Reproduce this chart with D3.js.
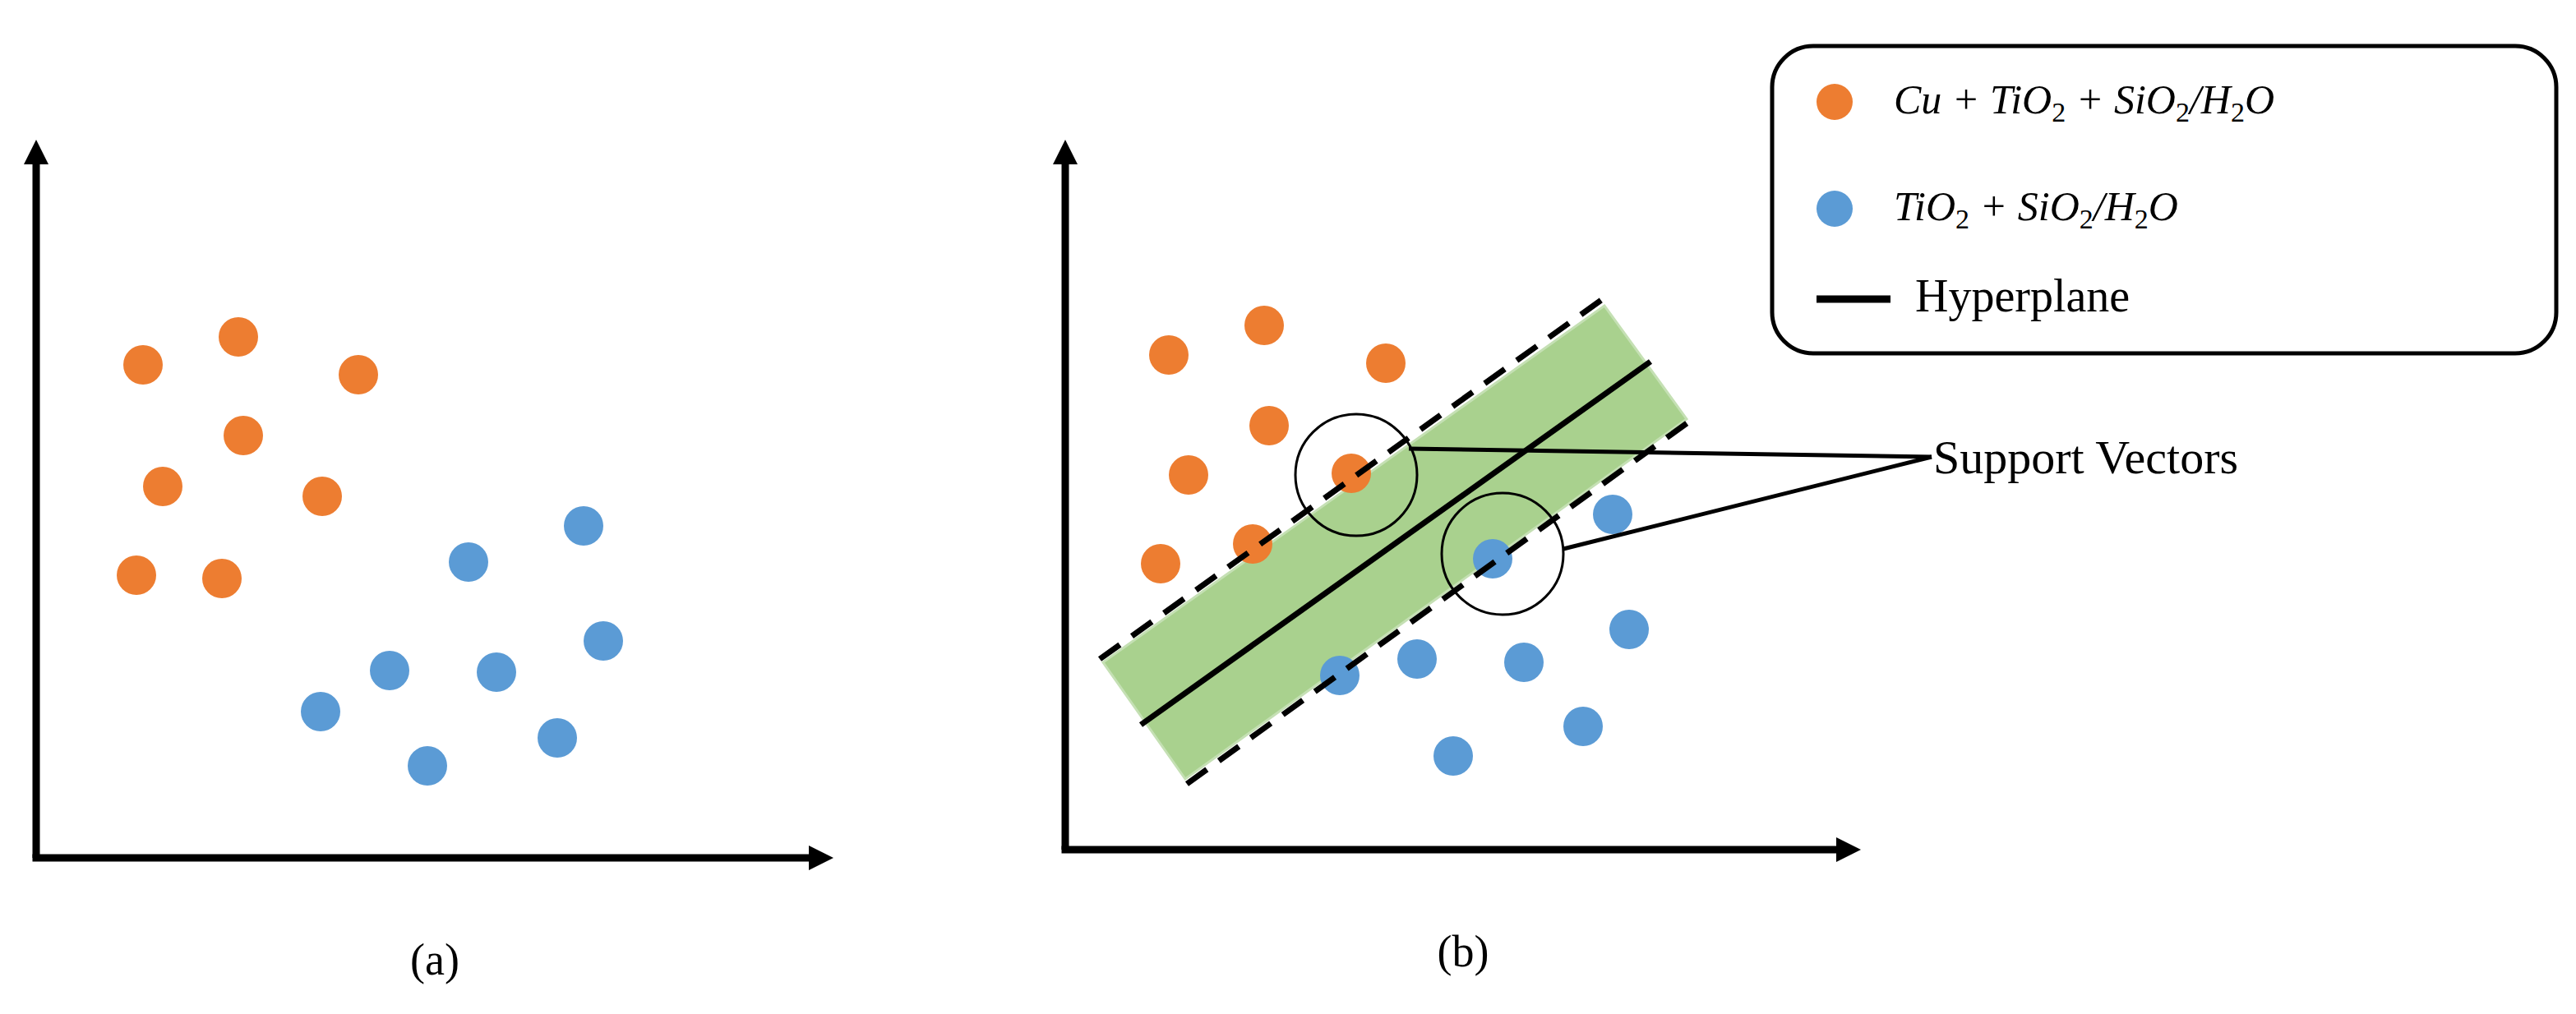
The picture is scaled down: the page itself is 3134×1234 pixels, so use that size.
<!DOCTYPE html>
<html>
<head>
<meta charset="utf-8">
<script src="https://cdn.jsdelivr.net/npm/d3@7"></script>
<style>
  body { margin: 0; background: #fff; }
  text { font-family: "Liberation Serif", "Times New Roman", serif; }
</style>
</head>
<body>
<svg id="chart" width="3134" height="1234"></svg>
<script>
"use strict";

// values, in axis units (origin at lower-left corner)
const orangeA = [[65,300],[123,317],[196,294],[126,257],[77,226],[174,220],[61,172],[113,170]];
const blueA = [[263,180],[333,202],[345,132],[215,114],[280,113],[173,89],[238,56],[317,73]];
const orangeB = [[63,301],[121,319],[195,296],[124,258],[75,228],[174,229],[58,174],[114,186]];
const blueB = [[260,177],[333,204],[343,134],[167,106],[214,116],[279,114],[236,57],[315,75]];
const marginBand = [[23,114],[328,331],[378,262],[73,43]];
const upperMargin = [[21,116],[331,338]];
const hyperplane = [[46,76],[356,297]];
const lowerMargin = [[74,40],[383,263]];
const supportVectors = [[177,228],[266,180]];
const calloutFrom = [[209,244],[303,183]];
const calloutTo = [527,239];
const legendItems = ["Cu + TiO2 + SiO2/H2O", "TiO2 + SiO2/H2O", "Hyperplane"];

const ORANGE = "#ed7d31";
const BLUE = "#5b9bd5";
const svg = d3.select("#chart");

/**
 * Draws one panel: axes with arrows and its label.
 */
function panel(ox, oy, w, h, label) {
  const x = d3.scaleLinear().domain([0, w]).range([ox, ox + w * 2]);
  const y = d3.scaleLinear().domain([0, h]).range([oy, oy - h * 2]);
  const g = svg.append("g");

  g.append("line").attr("x1", x(0)).attr("y1", y(0)).attr("x2", x(0)).attr("y2", y(h) + 26)
    .attr("stroke", "#000").attr("stroke-width", 9);
  g.append("line").attr("x1", x(0) - 4.5).attr("y1", y(0)).attr("x2", x(w) - 26).attr("y2", y(0))
    .attr("stroke", "#000").attr("stroke-width", 9);
  g.append("path").attr("d", `M${x(0)},${y(h)}l-15,30h30z`).attr("fill", "#000");
  g.append("path").attr("d", `M${x(w)},${y(0)}l-30,-15v30z`).attr("fill", "#000");

  g.append("text").attr("x", x(w / 2)).attr("y", y(0) + 142)
    .attr("text-anchor", "middle").attr("font-size", 54).text(label);

  return { g, x, y };
}

const a = panel(44, 1044, 485, 437, "(a)");
const b = panel(1296, 1034, 484, 432, "(b)");

// margin band in panel b
const line = d3.line().x((d) => b.x(d[0])).y((d) => b.y(d[1]));
b.g.append("path").attr("d", line(marginBand) + "Z")
  .attr("fill", "#a9d18e").attr("stroke", "#c5e0b4").attr("stroke-width", 3);

function drawPoints(p, data, color) {
  p.g.selectAll(null).data(data).join("circle")
    .attr("cx", (d) => p.x(d[0])).attr("cy", (d) => p.y(d[1]))
    .attr("r", 24).attr("fill", color);
}
drawPoints(a, orangeA, ORANGE);
drawPoints(a, blueA, BLUE);
drawPoints(b, orangeB, ORANGE);
drawPoints(b, blueB, BLUE);

[upperMargin, lowerMargin].forEach((seg) => {
  b.g.append("path").attr("d", line(seg)).attr("stroke", "#000")
    .attr("stroke-width", 7).attr("stroke-dasharray", "30,18").attr("fill", "none");
});
b.g.append("path").attr("d", line(hyperplane)).attr("stroke", "#000")
  .attr("stroke-width", 7).attr("fill", "none");

b.g.selectAll(null).data(supportVectors).join("circle")
  .attr("cx", (d) => b.x(d[0])).attr("cy", (d) => b.y(d[1]))
  .attr("r", 74).attr("fill", "none").attr("stroke", "#000").attr("stroke-width", 3);

calloutFrom.forEach((d) => {
  b.g.append("path").attr("d", line([d, calloutTo])).attr("stroke", "#000")
    .attr("stroke-width", 5).attr("fill", "none");
});
b.g.append("text").attr("x", b.x(calloutTo[0]) + 2).attr("y", b.y(calloutTo[1]) + 20)
  .attr("font-size", 58).text("Support Vectors");

// legend
const lg = svg.append("g");
lg.append("rect").attr("x", 2156).attr("y", 56).attr("width", 954).attr("height", 374)
  .attr("rx", 50).attr("fill", "#fff").attr("stroke", "#000").attr("stroke-width", 5);

function mathLabel(t, xPos, yPos, text) {
  const el = t.append("text").attr("x", xPos).attr("y", yPos)
    .attr("font-size", 50).attr("font-style", "italic");
  // digits become upright subscripts
  let shifted = false;
  text.split(/(\d)/).forEach((part) => {
    if (!part) return;
    if (/\d/.test(part)) {
      el.append("tspan").attr("font-style", "normal").attr("font-size", 34)
        .attr("dy", 10).text(part);
      shifted = true;
    } else {
      el.append("tspan").attr("dy", shifted ? -10 : 0).text(part);
      shifted = false;
    }
  });
}

lg.append("circle").attr("cx", 2232).attr("cy", 124).attr("r", 22).attr("fill", ORANGE);
mathLabel(lg, 2304, 138, legendItems[0]);
lg.append("circle").attr("cx", 2232).attr("cy", 254).attr("r", 22).attr("fill", BLUE);
mathLabel(lg, 2304, 268, legendItems[1]);
lg.append("line").attr("x1", 2210).attr("x2", 2300).attr("y1", 364).attr("y2", 364)
  .attr("stroke", "#000").attr("stroke-width", 9);
lg.append("text").attr("x", 2330).attr("y", 360).attr("dominant-baseline", "central")
  .attr("font-size", 56).text(legendItems[2]);
</script>
</body>
</html>
